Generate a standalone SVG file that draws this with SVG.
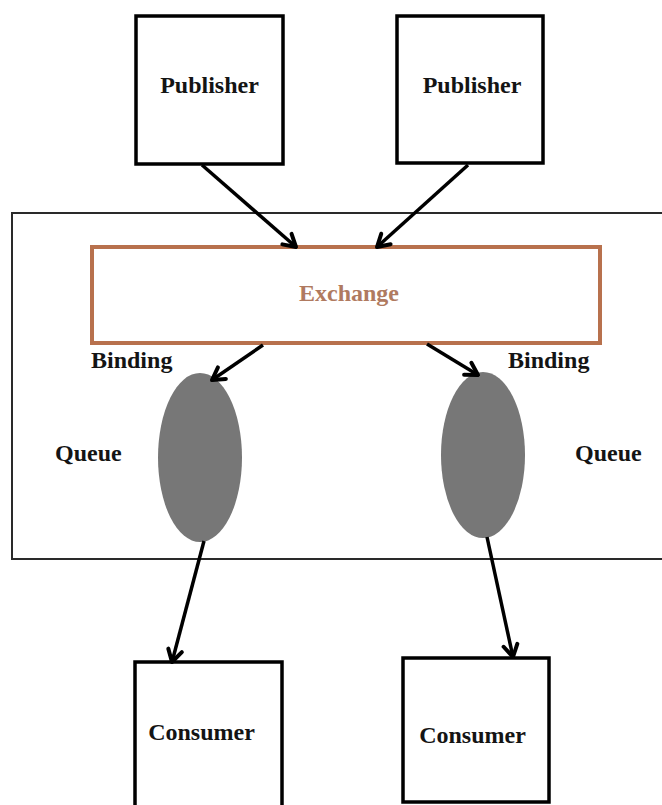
<svg xmlns="http://www.w3.org/2000/svg" width="662" height="805" viewBox="0 0 662 805">
<style>
  .box { fill: #ffffff; stroke: #000000; stroke-width: 3.5; }
  .lbl { font-family: "Liberation Serif", "Times New Roman", serif; font-weight: bold; font-size: 24px; fill: #141414; }
  .conn { stroke: #000000; stroke-width: 3.5; fill: none; marker-end: url(#arrow); }
  .queue { fill: #777777; }
</style>
<defs>
  <marker id="arrow" markerUnits="userSpaceOnUse" viewBox="-16 -10 20 20" markerWidth="20" markerHeight="20" refX="0" refY="0" orient="auto">
    <path d="M-12,-7 L0,0 L-12,7" fill="none" stroke="#000000" stroke-width="4" stroke-linecap="round" stroke-linejoin="round"/>
  </marker>
</defs>
<rect width="662" height="805" fill="#ffffff"/>
<g id="broker">
  <rect x="12" y="213" width="660" height="346" fill="none" stroke="#2a2a2a" stroke-width="2"/>
</g>
<g id="publisher1">
  <rect class="box" x="136" y="16" width="147" height="148"/>
  <text class="lbl" x="209.5" y="93" text-anchor="middle">Publisher</text>
</g>
<g id="publisher2">
  <rect class="box" x="397" y="16" width="146" height="147"/>
  <text class="lbl" x="472" y="93" text-anchor="middle">Publisher</text>
</g>
<g id="exchange">
  <rect x="92" y="247" width="508" height="96" fill="#ffffff" stroke="#b8714d" stroke-width="4"/>
  <text class="lbl" x="349" y="301" text-anchor="middle" style="fill:#b07a60">Exchange</text>
</g>
<g id="queue1">
  <ellipse class="queue" cx="200" cy="457.5" rx="42" ry="84.5"/>
  <text class="lbl" x="55" y="461">Queue</text>
</g>
<g id="queue2">
  <ellipse class="queue" cx="483" cy="455" rx="42" ry="83"/>
  <text class="lbl" x="575" y="461">Queue</text>
</g>
<g id="consumer1">
  <rect class="box" x="135" y="662" width="147" height="160"/>
  <text class="lbl" x="201.5" y="740" text-anchor="middle">Consumer</text>
</g>
<g id="consumer2">
  <rect class="box" x="403" y="658" width="146" height="144"/>
  <text class="lbl" x="472.5" y="743" text-anchor="middle">Consumer</text>
</g>
<g id="labels">
  <text class="lbl" x="91" y="368">Binding</text>
  <text class="lbl" x="508" y="368">Binding</text>
</g>
<g id="connectors">
  <line class="conn" x1="202" y1="165" x2="296" y2="247"/>
  <line class="conn" x1="468" y1="165" x2="377" y2="247"/>
  <line class="conn" x1="263" y1="345" x2="212" y2="380"/>
  <line class="conn" x1="427" y1="344" x2="478" y2="375"/>
  <line class="conn" x1="204" y1="541" x2="172" y2="662"/>
  <line class="conn" x1="487" y1="537" x2="513" y2="657"/>
</g>
</svg>
